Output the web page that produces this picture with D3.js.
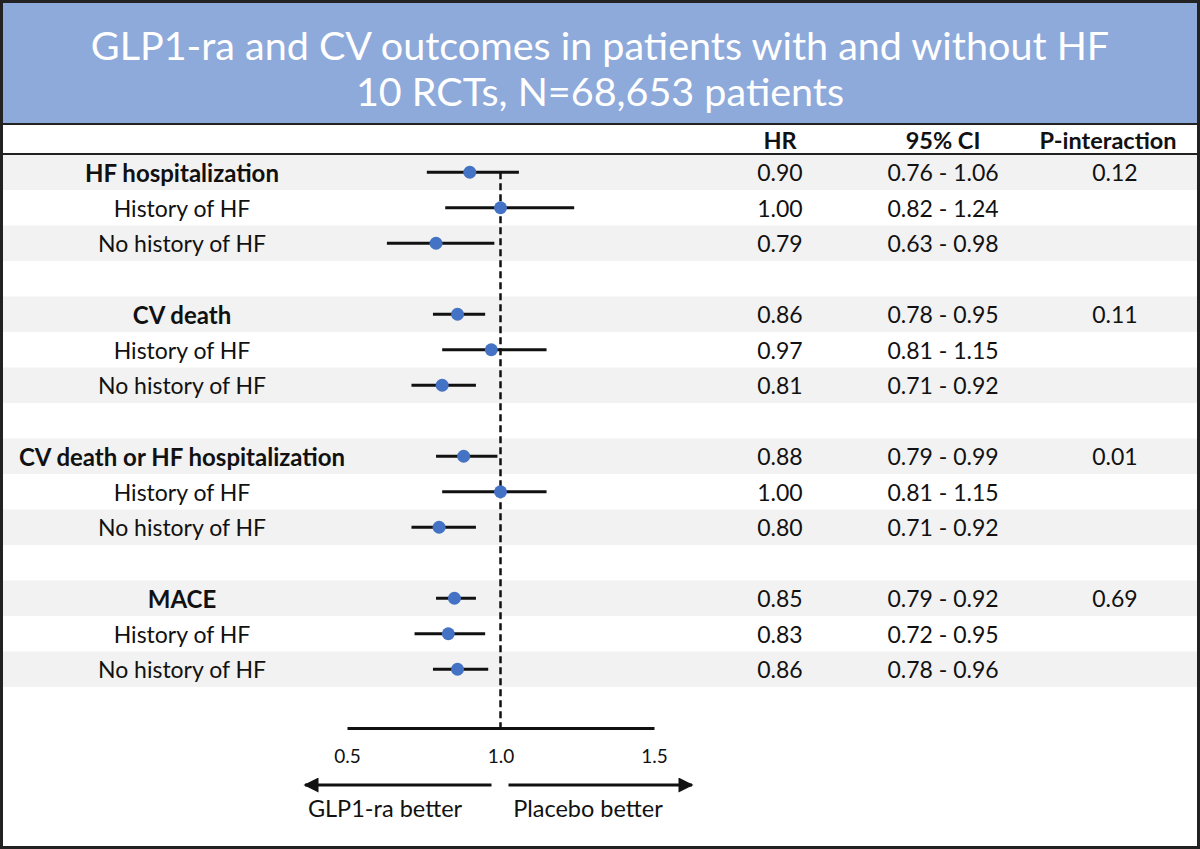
<!DOCTYPE html>
<html>
<head>
<meta charset="utf-8">
<script src="https://cdn.jsdelivr.net/npm/d3@7/dist/d3.min.js"></script>
<style>
  html, body { margin: 0; padding: 0; background: #fff; }
  svg { display: block; font-family: Lato, "Open Sans", sans-serif; }
</style>
</head>
<body>
<svg id="chart" width="1200" height="849"></svg>
<script>
// ---------------- Data ----------------
const titleLines = ["GLP1-ra and CV outcomes in patients with and without HF", "10 RCTs, N=68,653 patients"];
const columnHeaders = ["HR", "95% CI", "P-interaction"];
const rowLabels = [
  "HF hospitalization", "History of HF", "No history of HF",
  "CV death", "History of HF", "No history of HF",
  "CV death or HF hospitalization", "History of HF", "No history of HF",
  "MACE", "History of HF", "No history of HF"
];
const isOutcome = [true, false, false, true, false, false, true, false, false, true, false, false];
const hr     = [0.90, 1.00, 0.79, 0.86, 0.97, 0.81, 0.88, 1.00, 0.80, 0.85, 0.83, 0.86];
const ciLow  = [0.76, 0.82, 0.63, 0.78, 0.81, 0.71, 0.79, 0.81, 0.71, 0.79, 0.72, 0.78];
const ciHigh = [1.06, 1.24, 0.98, 0.95, 1.15, 0.92, 0.99, 1.15, 0.92, 0.92, 0.95, 0.96];
const pInteraction = ["0.12", "", "", "0.11", "", "", "0.01", "", "", "0.69", "", ""];
const xTicks = [0.5, 1.0, 1.5];
const directionLabels = ["GLP1-ra better", "Placebo better"];

// ---------------- Layout ----------------
const W = 1200, H = 849;
const svg = d3.select("#chart");
const headerBlue = "#8eaadb";
const shade = "#f2f2f2";
const dotColor = "#4472c4";
const fontSize = 23;
const boldSize = 24;

// rows: 3 per group + 1 blank between groups
const rowIndex = rowLabels.map((d, i) => Math.floor(i / 3) * 4 + (i % 3));
const nRows = 15;
const y = d3.scaleBand().domain(d3.range(nRows)).range([154.5, 154.5 + nRows * 35.5]).paddingInner(0);
const yc = i => y(i) + y.bandwidth() / 2;

const x = d3.scaleLinear().domain([0.5, 1.5]).range([347, 654]);

// header band
svg.append("rect").attr("x", 0).attr("y", 0).attr("width", W).attr("height", 123).attr("fill", headerBlue);

// title
svg.append("g").selectAll("text").data(titleLines).join("text")
  .attr("x", 600).attr("y", (d, i) => 44 + i * 46)
  .attr("text-anchor", "middle").attr("dominant-baseline", "central")
  .attr("fill", "#fff").attr("font-size", 39.5).attr("font-weight", 400)
  .text(d => d);

// row shading (even rows)
svg.append("g").selectAll("rect").data(d3.range(nRows).filter(i => i % 2 === 0)).join("rect")
  .attr("x", 0).attr("width", W).attr("y", d => y(d)).attr("height", y.bandwidth())
  .attr("fill", shade);

// header separator lines
svg.append("line").attr("x1", 0).attr("x2", W).attr("y1", 124).attr("y2", 124).attr("stroke", "#222").attr("stroke-width", 2);
svg.append("line").attr("x1", 0).attr("x2", W).attr("y1", 154).attr("y2", 154).attr("stroke", "#222").attr("stroke-width", 2);

// column header labels
const colX = [780, 943, 1108];
const valX = [780, 943, 1115];
svg.append("g").selectAll("text").data(columnHeaders).join("text")
  .attr("x", (d, i) => colX[i]).attr("y", 139.5)
  .attr("text-anchor", "middle").attr("dominant-baseline", "central")
  .attr("font-size", 23.5).attr("font-weight", 700).attr("fill", "#111")
  .text(d => d);

// row labels
svg.append("g").selectAll("text").data(rowLabels).join("text")
  .attr("x", 182).attr("y", (d, i) => yc(rowIndex[i]))
  .attr("text-anchor", "middle").attr("dominant-baseline", "central")
  .attr("font-size", (d, i) => isOutcome[i] ? boldSize : fontSize)
  .attr("font-weight", (d, i) => isOutcome[i] ? 700 : 400).attr("fill", "#111")
  .text(d => d);

// values
const fmt = d3.format(".2f");
const vals = svg.append("g");
vals.selectAll("text.hr").data(hr).join("text").attr("class", "hr")
  .attr("x", valX[0]).attr("y", (d, i) => yc(rowIndex[i]))
  .attr("text-anchor", "middle").attr("dominant-baseline", "central")
  .attr("font-size", fontSize).attr("fill", "#111").text(d => fmt(d));
vals.selectAll("text.ci").data(hr).join("text").attr("class", "ci")
  .attr("x", valX[1]).attr("y", (d, i) => yc(rowIndex[i]))
  .attr("text-anchor", "middle").attr("dominant-baseline", "central")
  .attr("font-size", fontSize).attr("fill", "#111").text((d, i) => fmt(ciLow[i]) + " - " + fmt(ciHigh[i]));
vals.selectAll("text.p").data(pInteraction).join("text").attr("class", "p")
  .attr("x", valX[2]).attr("y", (d, i) => yc(rowIndex[i]))
  .attr("text-anchor", "middle").attr("dominant-baseline", "central")
  .attr("font-size", fontSize).attr("fill", "#111").text(d => d);

// axis
const axisY = 728;
const axis = svg.append("g").attr("transform", `translate(0,${axisY})`)
  .call(d3.axisBottom(x).tickValues(xTicks).tickFormat(d3.format(".1f")).tickSize(0).tickSizeOuter(0).tickPadding(22));
axis.select(".domain").attr("stroke", "#111").attr("stroke-width", 3);
axis.selectAll(".tick text").attr("font-size", 19).attr("font-family", "Lato, 'Open Sans', sans-serif").attr("fill", "#111");

// reference line at 1.0
svg.append("line").attr("x1", x(1)).attr("x2", x(1)).attr("y1", yc(0)).attr("y2", axisY)
  .attr("stroke", "#111").attr("stroke-width", 2.5).attr("stroke-dasharray", "7,4");

// CI lines and points
const marks = svg.append("g");
marks.selectAll("line").data(hr).join("line")
  .attr("x1", (d, i) => x(ciLow[i])).attr("x2", (d, i) => x(ciHigh[i]))
  .attr("y1", (d, i) => yc(rowIndex[i])).attr("y2", (d, i) => yc(rowIndex[i]))
  .attr("stroke", "#111").attr("stroke-width", 3);
marks.selectAll("circle").data(hr).join("circle")
  .attr("cx", d => x(d)).attr("cy", (d, i) => yc(rowIndex[i])).attr("r", 6.5)
  .attr("fill", dotColor);

// direction arrows
const arrowY = 785;
const defs = svg.append("defs");
defs.append("marker").attr("id", "arrow").attr("viewBox", "0 0 10 10").attr("refX", 9).attr("refY", 5)
  .attr("markerWidth", 5.5).attr("markerHeight", 5).attr("markerUnits", "strokeWidth").attr("orient", "auto")
  .append("path").attr("d", "M0,0 L10,5 L0,10 Z").attr("fill", "#111");
svg.append("line").attr("x1", x(1) - 9).attr("x2", x(0.5) - 42).attr("y1", arrowY).attr("y2", arrowY)
  .attr("stroke", "#111").attr("stroke-width", 3).attr("marker-end", "url(#arrow)");
svg.append("line").attr("x1", x(1) + 8).attr("x2", x(1.5) + 38).attr("y1", arrowY).attr("y2", arrowY)
  .attr("stroke", "#111").attr("stroke-width", 3).attr("marker-end", "url(#arrow)");
svg.append("g").selectAll("text").data(directionLabels).join("text")
  .attr("x", (d, i) => i === 0 ? 385 : 588).attr("y", 808)
  .attr("text-anchor", "middle").attr("dominant-baseline", "central")
  .attr("font-size", 23.5).attr("fill", "#111").text(d => d);

// outer border
svg.append("rect").attr("x", 1.5).attr("y", 1.5).attr("width", W - 3).attr("height", H - 3)
  .attr("fill", "none").attr("stroke", "#222").attr("stroke-width", 3);
</script>
</body>
</html>
